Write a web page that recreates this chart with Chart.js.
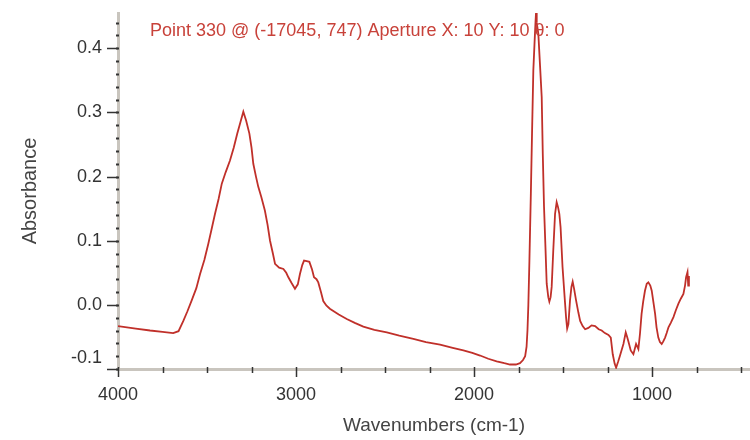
<!DOCTYPE html>
<html>
<head>
<meta charset="utf-8">
<script src="https://cdn.jsdelivr.net/npm/chart.js@4"></script>
<style>
  html, body { margin: 0; padding: 0; background: #fff; }
  #wrap { width: 750px; height: 440px; }
</style>
</head>
<body>
<div id="wrap"><canvas id="spectrum" width="750" height="440"></canvas></div>
<script>
// Espectro IR: número de onda (cm-1) y absorbancia
const wavenumbers = [
  4000, 3900, 3820, 3750, 3690, 3660, 3633, 3610, 3586, 3560, 3539, 3515, 3493, 3475, 3455, 3435,
  3417, 3395, 3371, 3350, 3330, 3312, 3296, 3280, 3262, 3250, 3240, 3225, 3212, 3195, 3175, 3160,
  3146, 3130, 3118, 3095, 3071, 3055, 3043, 3025, 3006, 2990, 2978, 2965, 2955, 2940, 2925, 2910,
  2899, 2885, 2875, 2860, 2847, 2830, 2810, 2760, 2715, 2670, 2622, 2560, 2490, 2420, 2341, 2270,
  2191, 2120, 2060, 2010, 1966, 1920, 1873, 1830, 1798, 1765, 1742, 1725, 1713, 1705, 1700, 1695,
  1689, 1681, 1674, 1667, 1660, 1655, 1652, 1648, 1639, 1629, 1620, 1614, 1607, 1599, 1592, 1583,
  1577, 1570, 1564, 1555, 1545, 1536, 1528, 1521, 1514, 1503, 1490, 1483, 1477, 1470, 1461, 1453,
  1446, 1438, 1427, 1414, 1404, 1390, 1376, 1358, 1340, 1320, 1300, 1283, 1265, 1245, 1232, 1221,
  1210, 1202, 1190, 1180, 1161, 1148, 1140, 1133, 1120, 1105, 1090, 1077, 1068, 1059, 1050, 1040,
  1030, 1021, 1010, 1002, 993, 983, 975, 965, 956, 946, 937, 927, 918, 908, 895, 880,
  866, 852, 838, 824, 815, 809, 801, 797, 793
];
const absorbance = [
  -0.033, -0.037, -0.040, -0.042, -0.044, -0.041, -0.025, -0.010, 0.007, 0.026, 0.048, 0.070, 0.095, 0.117, 0.142, 0.165,
  0.189, 0.207, 0.225, 0.245, 0.267, 0.285, 0.301, 0.287, 0.267, 0.245, 0.220, 0.200, 0.184, 0.168, 0.147, 0.125,
  0.100, 0.080, 0.064, 0.058, 0.056, 0.050, 0.043, 0.034, 0.025, 0.032, 0.048, 0.062, 0.069, 0.068, 0.067, 0.055,
  0.043, 0.040, 0.035, 0.020, 0.006, -0.001, -0.006, -0.015, -0.022, -0.028, -0.034, -0.039, -0.043, -0.048, -0.053, -0.058,
  -0.062, -0.067, -0.071, -0.075, -0.079, -0.084, -0.088, -0.091, -0.093, -0.093, -0.091, -0.086, -0.080, -0.065, -0.040, 0.000,
  0.069, 0.173, 0.272, 0.366, 0.410, 0.440, 0.455, 0.440, 0.423, 0.371, 0.324, 0.236, 0.153, 0.090, 0.033, 0.012,
  0.005, 0.012, 0.028, 0.085, 0.142, 0.160, 0.152, 0.142, 0.121, 0.059, 0.007, -0.020, -0.037, -0.030, 0.007, 0.028,
  0.036, 0.025, 0.007, -0.012, -0.025, -0.033, -0.038, -0.036, -0.032, -0.033, -0.038, -0.040, -0.044, -0.047, -0.051, -0.077,
  -0.092, -0.098, -0.088, -0.079, -0.061, -0.043, -0.050, -0.057, -0.071, -0.077, -0.061, -0.069, -0.045, -0.014, 0.005, 0.022,
  0.033, 0.035, 0.030, 0.022, 0.005, -0.014, -0.035, -0.051, -0.058, -0.061, -0.057, -0.051, -0.044, -0.035, -0.028, -0.019,
  -0.008, 0.002, 0.010, 0.017, 0.030, 0.043, 0.051, 0.030, 0.045
];

// Marcas de los ejes
const xMajorTicks = [4000, 3000, 2000, 1000];
const xMinorStep = 250;
const yMajorTicks = [-0.1, 0.0, 0.1, 0.2, 0.3, 0.4];
const yMinorStep = 0.02;

const annotationText = 'Point 330 @ (-17045, 747) Aperture X: 10 Y: 10 \u03B8: 0';

const LINE_RED = '#c0302a';
const AXIS_GRAY = '#c9c5be';
const TICK_DARK = '#333';

// Dibuja las marcas mayores y menores sobre las líneas de los ejes
const tickMarks = {
    id: 'tickMarks',
    afterDraw(chart) {
        const {ctx, chartArea, scales: {x, y}} = chart;
        ctx.save();
        ctx.strokeStyle = TICK_DARK;

        // eje Y: menores como puntos, mayores hacia la izquierda
        ctx.lineWidth = 2;
        for (let v = y.min; v <= y.max + 1e-9; v += yMinorStep) {
            const py = Math.round(y.getPixelForValue(v)) + 0.5;
            ctx.beginPath();
            ctx.moveTo(chartArea.left - 2, py);
            ctx.lineTo(chartArea.left + 1, py);
            ctx.stroke();
        }
        ctx.lineWidth = 1.5;
        yMajorTicks.forEach(v => {
            const py = Math.round(y.getPixelForValue(v)) + 0.5;
            ctx.beginPath();
            ctx.moveTo(chartArea.left - 11, py);
            ctx.lineTo(chartArea.left, py);
            ctx.stroke();
        });

        // eje X: marcas que cruzan la línea del eje
        const startMinor = Math.ceil(x.min / xMinorStep) * xMinorStep;
        ctx.lineWidth = 1.5;
        for (let v = startMinor; v <= x.max; v += xMinorStep) {
            const px = Math.round(x.getPixelForValue(v)) + 0.5;
            const major = xMajorTicks.includes(v);
            ctx.beginPath();
            ctx.moveTo(px, chartArea.bottom - 2);
            ctx.lineTo(px, chartArea.bottom + (major ? 8 : 4));
            ctx.stroke();
        }

        // texto de la medición en rojo
        ctx.fillStyle = '#c8423a';
        ctx.font = '18px "Liberation Sans", Arial, sans-serif';
        ctx.textBaseline = 'middle';
        ctx.textAlign = 'left';
        ctx.fillText(annotationText, chartArea.left + 32, chartArea.top + 18);
        ctx.restore();
    }
};

const points = wavenumbers.map((w, i) => ({x: w, y: absorbance[i]}));

new Chart(document.getElementById('spectrum'), {
    type: 'line',
    data: {
        datasets: [{
            data: points,
            borderColor: LINE_RED,
            borderWidth: 1.8,
            pointRadius: 0,
            tension: 0,
            fill: false
        }]
    },
    options: {
        responsive: false,
        animation: false,
        layout: { padding: { top: 13, right: 0, left: 0, bottom: 0 } },
        plugins: {
            legend: { display: false },
            tooltip: { enabled: false }
        },
        scales: {
            x: {
                type: 'linear',
                reverse: true,
                min: 450,
                max: 4000,
                afterFit(scale) { scale.height = 71; scale.paddingLeft = 0; scale.paddingRight = 0; },
                afterBuildTicks(scale) { scale.ticks = xMajorTicks.map(v => ({value: v})); },
                grid: { display: false, drawTicks: false },
                border: { display: true, color: AXIS_GRAY, width: 3 },
                ticks: {
                    padding: 15,
                    color: TICK_DARK,
                    font: { family: '"Liberation Sans", Arial, sans-serif', size: 18 },
                    maxRotation: 0,
                    autoSkip: false,
                    callback: v => String(v)
                },
                title: {
                    display: true,
                    text: 'Wavenumbers (cm-1)',
                    color: '#444',
                    font: { family: '"Liberation Sans", Arial, sans-serif', size: 19 },
                    padding: { top: 0, bottom: 3 }
                }
            },
            y: {
                min: -0.1,
                max: 0.455,
                afterFit(scale) { scale.width = 118; scale.paddingTop = 0; scale.paddingBottom = 0; },
                afterBuildTicks(scale) { scale.ticks = yMajorTicks.map(v => ({value: v})); },
                grid: { display: false, drawTicks: false },
                border: { display: true, color: AXIS_GRAY, width: 3 },
                ticks: {
                    padding: 16,
                    color: TICK_DARK,
                    font: { family: '"Liberation Sans", Arial, sans-serif', size: 18 },
                    autoSkip: false,
                    // la etiqueta -0.1 queda un poco por encima de su marca
                    callback: v => v < -0.05 ? [v.toFixed(1), ''] : v.toFixed(1)
                },
                title: {
                    display: true,
                    text: 'Absorbance',
                    color: '#444',
                    font: { family: '"Liberation Sans", Arial, sans-serif', size: 20 },
                    padding: { top: 18, bottom: 0 }
                }
            }
        }
    },
    plugins: [tickMarks]
});
</script>
</body>
</html>
